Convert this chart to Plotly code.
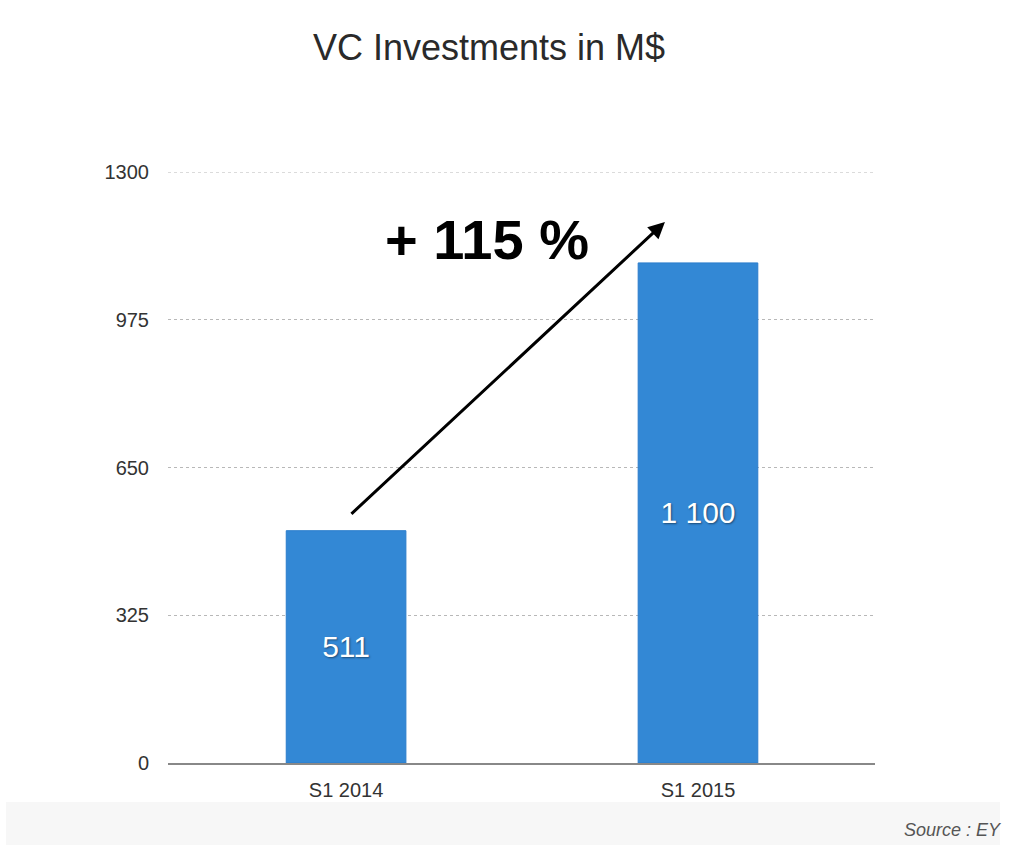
import plotly.graph_objects as go

categories = ["S1 2014", "S1 2015"]
values = [511, 1100]
bar_labels = ["511", "1 100"]
y_ticks = [0, 325, 650, 975, 1300]

growth = round((values[1] - values[0]) / values[0] * 100)

FONT = "Liberation Sans, Helvetica, Arial"
L, R, T, B = 168, 149, 172, 93
PW, PH = 1024 - L - R, 856 - T - B

fig = go.Figure()
fig.add_trace(go.Bar(
    x=categories, y=values, text=bar_labels,
    textposition="inside", insidetextanchor="middle",
    textfont=dict(family=FONT, size=30, color="white",
                  shadow="1px 1px 2px rgba(0,0,0,0.45)"),
    marker=dict(color="#3388d5", line=dict(color="#2b7dcc", width=1)),
    width=0.34, hoverinfo="skip",
))

fig.add_annotation(
    x=0.906, y=1190, ax=0.011, ay=545, xref="x", yref="y", axref="x", ayref="y",
    text="", showarrow=True, arrowhead=2, arrowsize=1.1, arrowwidth=3, arrowcolor="black",
)
fig.add_annotation(
    x=0.40, y=1152, xref="x", yref="y", text=f"+ {growth} %", showarrow=False,
    font=dict(family=FONT, size=56, color="black", weight="bold"),
)
fig.add_annotation(
    x=(1004 - L) / PW, y=(856 - B - 830) / PH, xref="paper", yref="paper",
    xanchor="right", yanchor="middle",
    text="<i>Source : EY</i>", showarrow=False,
    font=dict(family=FONT, size=18, color="#555555"),
)
# top gridline (edge gridline is not drawn by plotly)
fig.add_shape(type="line", xref="paper", yref="y", x0=0, x1=1,
              y0=y_ticks[-1], y1=y_ticks[-1],
              line=dict(color="#b8b8b8", width=1, dash="dot"), layer="below")
# bottom light band
fig.add_shape(type="rect", xref="paper", yref="paper",
              x0=(6 - L) / PW, x1=(1000 - L) / PW,
              y0=(856 - B - 845) / PH, y1=(856 - B - 802) / PH,
              fillcolor="#f7f7f7", line=dict(width=0), layer="below")

fig.update_layout(
    width=1024, height=856,
    margin=dict(l=L, r=R, t=T, b=B),
    paper_bgcolor="white", plot_bgcolor="white",
    title=dict(text="VC Investments in M$", x=489 / 1024, xref="container", xanchor="center",
               y=1 - 47 / 856, yanchor="middle",
               font=dict(family=FONT, size=36, color="#2a2a2a")),
    showlegend=False,
    xaxis=dict(range=[-0.506, 1.503], showgrid=False, showline=True, linecolor="#888888",
               linewidth=1.5, ticks="", tickfont=dict(family=FONT, size=20, color="#333333"),
               ticklabelstandoff=8, zeroline=False),
    yaxis=dict(range=[0, 1300], tickvals=y_ticks, showgrid=True, gridcolor="#b8b8b8",
               griddash="dot", gridwidth=1, zeroline=False, showline=False, ticks="",
               tickfont=dict(family=FONT, size=20, color="#333333"),
               ticklabelstandoff=18),
)

fig.write_html("out.html")
